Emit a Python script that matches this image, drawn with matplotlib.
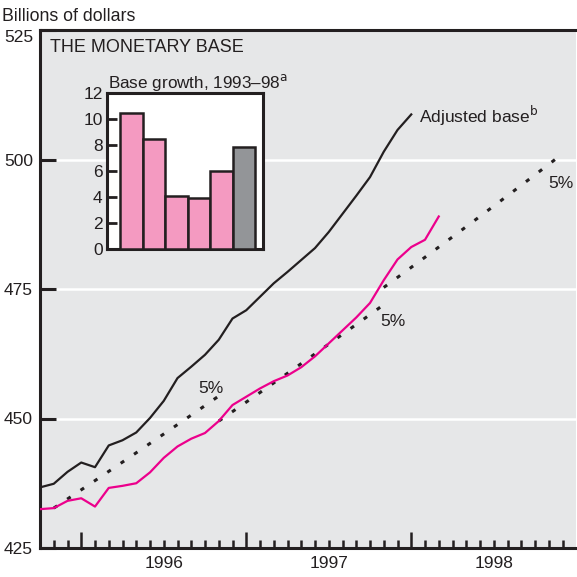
import matplotlib
matplotlib.use("Agg")
import matplotlib.pyplot as plt
import numpy as np
from matplotlib.ticker import FuncFormatter

plt.rcParams['font.family'] = ['Liberation Sans Narrow', 'Liberation Sans', 'DejaVu Sans']
plt.rcParams['mathtext.fontset'] = 'custom'
plt.rcParams['mathtext.rm'] = 'Liberation Sans Narrow'
plt.rcParams['lines.scale_dashes'] = False

INK = '#231F20'
PINK = '#EC008C'
BG = '#E6E7E8'

# months counted from January 1996 (0 = Jan 1996)
months = np.arange(-3, 27)

adjusted_base = [436.7, 437.4, 439.7, 441.5, 440.6, 444.8, 445.8, 447.3, 450.1, 453.4,
                 457.8, 460.0, 462.3, 465.2, 469.3, 470.9, 473.5, 476.1, 478.3, 480.6,
                 482.9, 486.0, 489.5, 493.0, 496.6, 501.5, 505.7, 508.7]
monetary_base = [432.5, 432.7, 434.1, 434.6, 433.0, 436.6, 437.0, 437.5, 439.6, 442.4,
                 444.6, 446.1, 447.2, 449.5, 452.6, 454.2, 455.8, 457.2, 458.3, 459.9,
                 462.0, 464.5, 467.0, 469.5, 472.3, 476.7, 480.7, 483.1, 484.5, 489.0]

# 5% growth paths
path_start = [-2, 10, 22]
path_end = [10, 22, 35]
path_base = [432.7, 449.5, 475.3]
path_rate = 0.05

# inset bars
growth_years = ['1993', '1994', '1995', '1996', '1997', '1998']
growth_pct = [10.5, 8.45, 4.1, 3.95, 6.05, 7.9]
bar_colors = ['#F49AC1'] * 5 + ['#939598']

year_labels = {6: '1996', 18: '1997', 30: '1998'}

fig = plt.figure(figsize=(5.77, 5.77), dpi=100)
ax = fig.add_axes([40 / 577, 29 / 577, 536.25 / 577, 518 / 577])
ax.set_facecolor(BG)
ax.set_xlim(-3, 36)
ax.set_ylim(425, 525)

for g in (450, 475, 500):
    ax.axhline(g, color='white', lw=1.8, zorder=0.5)

ax.plot(months[:len(adjusted_base)], adjusted_base, color=INK, lw=1.6, zorder=3)
ax.plot(months, monetary_base, color=PINK, lw=1.6, zorder=3)

for s, e, b in zip(path_start, path_end, path_base):
    m = np.arange(s, e + 1)
    v = b * (1 + path_rate) ** ((m - s) / 12)
    ax.plot(m, v, color=INK, lw=2.2, dashes=(3.0, 8.6), dash_capstyle='butt', zorder=2)

ax.text(9.44, 455.7, '5%', ha='center', va='center', fontsize=12.5, color=INK)
ax.text(22.64, 468.7, '5%', ha='center', va='center', fontsize=12.5, color=INK)
ax.text(34.85, 495.3, '5%', ha='center', va='center', fontsize=12.5, color=INK)
ax.text(24.56, 507.0, r'Adjusted base$^{\rm b}$', ha='left', va='baseline',
        fontsize=12.5, color=INK)
ax.text(0.019, 0.958, 'THE MONETARY BASE', transform=ax.transAxes, ha='left',
        va='baseline', fontsize=13, color=INK, family='Liberation Sans')

ax.set_yticks([425, 450, 475, 500, 525])
ax.tick_params(axis='y', direction='in', length=11.5, width=2.2, color=INK,
               pad=5, labelsize=12.5, labelcolor=INK)
ax.set_xticks([0, 12, 24])
ax.set_xticklabels([])
ax.set_xticks([m for m in range(-2, 36) if m % 12], minor=True)
ax.xaxis.set_minor_formatter(FuncFormatter(lambda v, p: year_labels.get(int(round(v)), '')))
ax.tick_params(axis='x', which='major', direction='in', length=11.5, width=1.8, color=INK)
ax.tick_params(axis='x', which='minor', direction='in', length=5.5, width=1.8, color=INK,
               pad=6, labelsize=12.5, labelcolor=INK)
ax.yaxis.get_major_ticks()[-1].label1.set_va('top')

for side in ('left', 'bottom', 'top'):
    ax.spines[side].set_linewidth(2.2)
    ax.spines[side].set_color(INK)
ax.spines['right'].set_visible(False)

fig.text(0.004, 0.9636, 'Billions of dollars', ha='left', va='baseline',
         fontsize=12.8, color=INK)

# inset: annual growth bars
ins = fig.add_axes([106.7 / 577, (577 - 249.3) / 577, 156 / 577, 156 / 577])
ins.set_facecolor('white')
ins.bar(np.arange(len(growth_pct)), growth_pct, width=1.0, color=bar_colors,
        edgecolor=INK, linewidth=1.8, zorder=3)
ins.set_xlim(-1.11, 5.82)
ins.set_ylim(0, 12)
ins.set_xticks([])
ins.set_yticks(range(0, 13, 2))
ins.tick_params(axis='y', direction='in', length=7, width=2.0, color=INK, pad=3,
                labelsize=12.5, labelcolor=INK)
for sp in ins.spines.values():
    sp.set_linewidth(2.2)
    sp.set_color(INK)
fig.text(108 / 577, (577 - 88) / 577, r'Base growth, 1993–98$^{\rm a}$', ha='left',
         va='baseline', fontsize=12.3, color=INK)

fig.savefig('out.png', dpi=100)
